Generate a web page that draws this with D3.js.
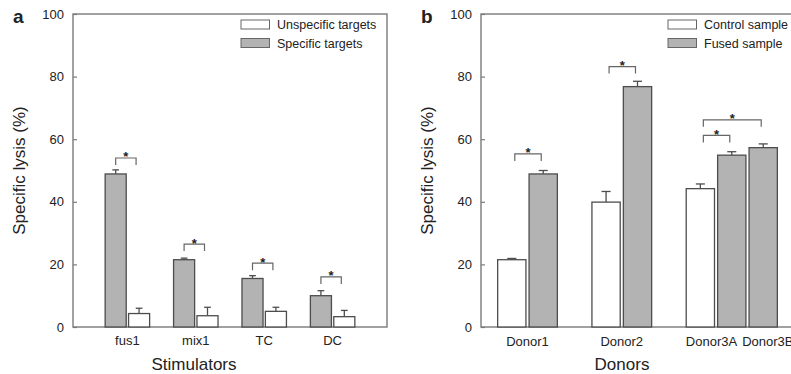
<!DOCTYPE html>
<html>
	<head>
		<title>Specific lysis</title>
		<style>
			body, html { margin: 0; padding: 0; background: #fff; }
			svg { display: block; font-family: "Liberation Sans", Arial, sans-serif; }
		</style>
	</head>
	<body>

		<svg id="svg" width="791" height="374"></svg>

		<script src="https://d3js.org/d3.v7.min.js"></script>
		<script>
			// ---- data, panel a ----
			const stimulators = ['fus1', 'mix1', 'TC', 'DC']
			const specificVals = [48.9, 21.5, 15.5, 10.0]
			const specificErr = [1.3, 0.5, 0.9, 1.6]
			const unspecificVals = [4.3, 3.6, 5.0, 3.3]
			const unspecificErr = [1.7, 2.7, 1.3, 2.0]
			const starA = [54.0, 26.5, 20.4, 16.0]   // bracket heights (%)

			// ---- data, panel b ----
			const donors = ['Donor1', 'Donor2', 'Donor3A', 'Donor3B']
			const controlVals = [21.5, 39.9, 44.2, null]
			const controlErr = [0.4, 3.4, 1.5, null]
			const fusedVals = [48.9, 76.8, 54.9, 57.3]
			const fusedErr = [1.1, 1.7, 1.1, 1.2]
			// brackets: [from bar, to bar, height (%)]
			const starB = [
				['Donor1-c', 'Donor1-f', 55.3],
				['Donor2-c', 'Donor2-f', 83.2],
				['Donor3A-c', 'Donor3A-f', 61.2],
				['Donor3A-c', 'Donor3B-f', 66.2]
			]

			const yTicks = [0, 20, 40, 60, 80, 100]

			const svg = d3.select('#svg')
			const ink = '#222'
			const grayFill = '#b3b3b3'
			const barStroke = '#4d4d4d'
			const frameCol = '#7a7a7a'

			const y = d3.scaleLinear().domain([0, 100]).range([327, 14])

			// draws frame, y axis and titles for one panel
			function drawFrame(g, x0, x1, letter, yTitleX, xTitle) {
				g.append('rect')
					.attr('x', x0).attr('y', y(100))
					.attr('width', x1 - x0).attr('height', y(0) - y(100))
					.attr('fill', 'none').attr('stroke', frameCol).attr('stroke-width', 1.4)

				const ax = g.append('g')
					.attr('transform', `translate(${x0},0)`)
					.call(d3.axisLeft(y).tickValues(yTicks).tickSizeInner(-4).tickSizeOuter(0).tickPadding(9))
				ax.select('.domain').remove()
				ax.selectAll('line').attr('stroke', frameCol).attr('stroke-width', 1.2)
				ax.selectAll('text').attr('fill', ink).style('font-size', '13px')
					.style('font-family', '"Liberation Sans", Arial, sans-serif')

				g.append('text')
					.attr('x', x0 - 60).attr('y', 23)
					.attr('fill', ink).style('font-size', '19px').style('font-weight', 'bold')
					.text(letter)

				g.append('text')
					.attr('transform', `translate(${yTitleX},${(y(0) + y(100)) / 2}) rotate(-90)`)
					.attr('text-anchor', 'middle')
					.attr('fill', ink).style('font-size', '17px')
					.text('Specific lysis (%)')

				g.append('text')
					.attr('x', xTitle[0]).attr('y', 370)
					.attr('text-anchor', 'middle')
					.attr('fill', ink).style('font-size', '17px')
					.text(xTitle[1])
			}

			function drawBar(g, x, w, v, err, fill) {
				const cap = w * 0.32
				const cx = x + w / 2
				g.append('line')
					.attr('x1', cx).attr('x2', cx)
					.attr('y1', y(v)).attr('y2', y(v + err))
					.attr('stroke', barStroke).attr('stroke-width', 1.3)
				g.append('line')
					.attr('x1', cx - cap / 2).attr('x2', cx + cap / 2)
					.attr('y1', y(v + err)).attr('y2', y(v + err))
					.attr('stroke', barStroke).attr('stroke-width', 1.3)
				g.append('rect')
					.attr('x', x).attr('y', y(v))
					.attr('width', w).attr('height', y(0) - y(v))
					.attr('fill', fill).attr('stroke', barStroke).attr('stroke-width', 1.3)
			}

			function drawBracket(g, xa, xb, v) {
				const top = y(v)
				const leg = 7
				g.append('path')
					.attr('d', `M${xa},${top + leg}V${top}H${xb}V${top + leg}`)
					.attr('fill', 'none').attr('stroke', '#666').attr('stroke-width', 1.2)
				g.append('text')
					.attr('x', (xa + xb) / 2).attr('y', top + 3.5)
					.attr('text-anchor', 'middle')
					.attr('fill', ink).style('font-size', '13px').style('font-weight', 'bold')
					.text('*')
			}

			function drawLegend(g, x, labels, fills) {
				labels.forEach((lab, i) => {
					const yy = 20 + i * 18.5
					g.append('rect')
						.attr('x', x).attr('y', yy).attr('width', 28.5).attr('height', 9)
						.attr('fill', fills[i]).attr('stroke', '#666').attr('stroke-width', 1)
					g.append('text')
						.attr('x', x + 36).attr('y', yy + 9)
						.attr('fill', ink).style('font-size', '12.5px')
						.text(lab)
				})
			}

			// ---------------- panel a ----------------
			const ga = svg.append('g')
			const xa = d3.scaleBand().domain(stimulators).range([73, 387])
				.paddingInner(0.35).paddingOuter(0.47)
			const xaInner = d3.scaleBand().domain(['specific', 'unspecific'])
				.range([0, xa.bandwidth()]).paddingInner(0.1)

			drawFrame(ga, 73, 387, 'a', 24.5, [194, 'Stimulators'])

			stimulators.forEach((s, i) => {
				const gx = xa(s)
				drawBar(ga, gx + xaInner('specific'), xaInner.bandwidth(), specificVals[i], specificErr[i], grayFill)
				drawBar(ga, gx + xaInner('unspecific'), xaInner.bandwidth(), unspecificVals[i], unspecificErr[i], '#fff')
				const c1 = gx + xaInner('specific') + xaInner.bandwidth() / 2
				const c2 = gx + xaInner('unspecific') + xaInner.bandwidth() / 2 - 3
				drawBracket(ga, c1, c2, starA[i])
				ga.append('text')
					.attr('x', gx + xa.bandwidth() / 2).attr('y', 345)
					.attr('text-anchor', 'middle')
					.attr('fill', ink).style('font-size', '13px')
					.text(s)
			})

			drawLegend(ga, 241, ['Unspecific targets', 'Specific targets'], ['#fff', grayFill])

			// ---------------- panel b ----------------
			const gb = svg.append('g')
			// one slot per bar, with an empty slot between different donors
			const slots = []
			const bars = []
			donors.forEach((d, i) => {
				const donorId = d.replace(/[A-Z]$/, '')
				if (i > 0 && donorId !== donors[i - 1].replace(/[A-Z]$/, '')) slots.push('gap' + i)
				if (controlVals[i] !== null) {
					slots.push(d + '-c')
					bars.push({ id: d + '-c', donor: d, v: controlVals[i], e: controlErr[i], fill: '#fff' })
				}
				slots.push(d + '-f')
				bars.push({ id: d + '-f', donor: d, v: fusedVals[i], e: fusedErr[i], fill: grayFill })
			})

			const xb = d3.scaleBand().domain(slots).range([481, 794])
				.paddingInner(0.1).paddingOuter(0.53)
			const cx = id => xb(id) + xb.bandwidth() / 2

			drawFrame(gb, 481, 794, 'b', 433, [622, 'Donors'])

			bars.forEach(b => drawBar(gb, xb(b.id), xb.bandwidth(), b.v, b.e, b.fill))
			starB.forEach(s => drawBracket(gb, cx(s[0]) + 3, cx(s[1]) - 2, s[2]))

			// donor labels: centred under their bars, pushed apart where they would touch
			const labs = donors.map(d => {
				const ids = bars.filter(b => b.donor === d).map(b => cx(b.id))
				return { name: d, x: d3.mean(ids) }
			})
			const labSel = gb.selectAll('text.donor').data(labs).enter().append('text')
				.attr('class', 'donor')
				.attr('y', 346)
				.attr('text-anchor', 'middle')
				.attr('fill', ink).style('font-size', '13px')
				.text(d => d.name)
			labSel.each(function (d) { d.w = this.getComputedTextLength() })
			for (let i = 1; i < labs.length; i++) {
				const a = labs[i - 1], b = labs[i]
				const over = (a.x + a.w / 2 + 5) - (b.x - b.w / 2)
				if (over > 0) { a.x -= over / 2; b.x += over / 2 }
			}
			labSel.attr('x', d => d.x)

			drawLegend(gb, 668, ['Control sample', 'Fused sample'], ['#fff', grayFill])
		</script>
	</body>
</html>
